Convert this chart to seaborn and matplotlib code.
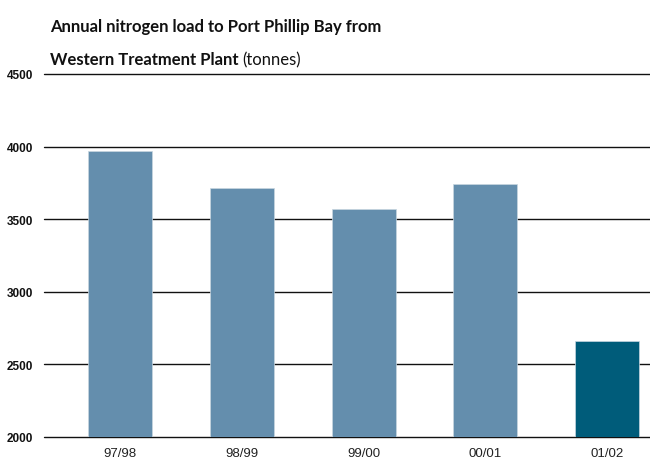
import matplotlib
matplotlib.use("Agg")
import matplotlib.pyplot as plt
import seaborn as sns
import pandas as pd

years = ["97/98", "98/99", "99/00", "00/01", "01/02"]
nitrogen = [3970, 3712, 3573, 3742, 2662]
y_ticks = [2000, 2500, 3000, 3500, 4000, 4500]
bar_colors = ["#648EAD", "#648EAD", "#648EAD", "#648EAD", "#005C7A"]

df = pd.DataFrame({"year": years, "value": nitrogen})

sns.set_theme(style="white")
plt.rcParams["font.family"] = ["Liberation Sans", "DejaVu Sans"]

fig = plt.figure(figsize=(6.5, 4.64), dpi=100)
ax = fig.add_axes([44/650, 1-438/464, 1-44/650, (438-75)/464])

sns.barplot(data=df, x="year", y="value", hue="year", palette=bar_colors,
            legend=False, width=0.526, ax=ax, zorder=3, saturation=1,
            edgecolor="#c8d6e0", linewidth=0.5)

ax.set_ylim(2000, 4500)
ax.set_xlim(-0.625, 4.352)
ax.set_yticks(y_ticks)
ax.set_yticklabels([str(v) for v in y_ticks], fontweight="bold", fontsize=8.5,
                   color="#111111")
for v in y_ticks:
    ax.axhline(v, color="#111111", linewidth=1.0, zorder=1, clip_on=False)
ax.tick_params(axis="y", length=0, pad=8)
ax.tick_params(axis="x", length=0, pad=7, labelsize=9.5, labelcolor="#222222")
for s in ax.spines.values():
    s.set_visible(False)
ax.set_xlabel("")
ax.set_ylabel("")

title_font = ["Lato", "DejaVu Sans"]
t1 = fig.text(50/650, 1-27/464, "Annual nitrogen load to Port Phillip Bay from",
              family=title_font, fontweight="bold",
              fontsize=14, va="center", ha="left", color="#111111")
fig.canvas.draw()
w = t1.get_window_extent().width
fs = 14 * 335 / w
t1.set_fontsize(fs)
t = fig.text(50/650, 1-60/464, "Western Treatment Plant",
             family=title_font, fontweight="bold",
             fontsize=fs, va="center", ha="left", color="#111111")
fig.canvas.draw()
bb = t.get_window_extent()
fig.text((bb.x1 + 4)/650, 1-60/464, "(tonnes)",
         family=title_font,
         fontsize=fs, va="center", ha="left", color="#111111")

fig.savefig("out.png", dpi=100)
